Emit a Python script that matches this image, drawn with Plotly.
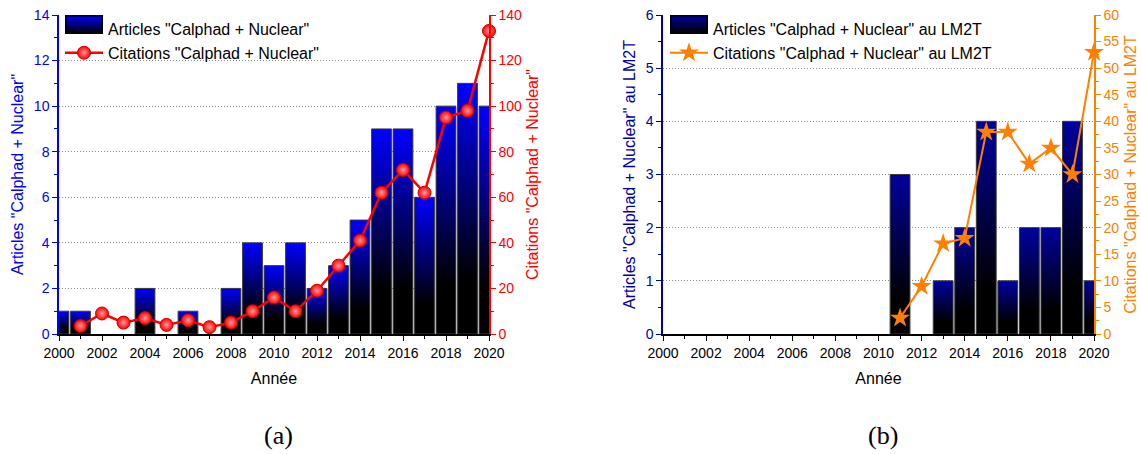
import base64
import plotly.graph_objects as go

# ---------------- data ----------------
years = list(range(2000, 2021))
articles_all = [1, 1, 0, 0, 2, 0, 1, 0, 2, 4, 3, 4, 2, 3, 5, 9, 9, 6, 10, 11, 10]
cit_years = list(range(2001, 2021))
citations_all = [3.5, 9, 5, 7, 4, 6, 3, 5, 10, 16, 10, 19, 30, 41, 62, 72, 62, 95, 98, 133]

lm2t_years = list(range(2011, 2021))
articles_lm2t = [3, 0, 1, 2, 4, 1, 2, 2, 4, 1]
citations_lm2t = [3, 9, 17, 18, 38, 38, 32, 35, 30, 53]

name_art_a = 'Articles "Calphad + Nuclear"'
name_cit_a = 'Citations "Calphad + Nuclear"'
name_art_b = 'Articles "Calphad + Nuclear" au LM2T'
name_cit_b = 'Citations "Calphad + Nuclear" au LM2T'
x_title = "Année"

W, H = 1141, 454
BAR_W = 0.92
FONT = "Liberation Sans, Arial, sans-serif"
BLUE = "#0000FF"
RED = "#FF0000"
NAVY = "#0000A0"
ORANGE = "#FF8000"

fig = go.Figure()


def add_bars(xs, vals, top_color, xref, yref, legend, name):
    for x, v in zip(xs, vals):
        if v <= 0:
            continue
        fig.add_trace(go.Scatter(
            x=[x - BAR_W / 2, x - BAR_W / 2, x + BAR_W / 2, x + BAR_W / 2, x - BAR_W / 2],
            y=[0, v, v, 0, 0],
            mode="lines", fill="toself",
            fillgradient=dict(type="vertical",
                              colorscale=[[0, "#000000"], [0.22, "#000000"], [1, top_color]]),
            line=dict(color="#3a3a3a", width=1),
            xaxis=xref, yaxis=yref, legend=legend, name=name,
            legendgroup=name, showlegend=False, hoverinfo="skip",
        ))
    # legend entry (its symbol box is drawn as a gradient image below)
    fig.add_trace(go.Scatter(
        x=[None], y=[None], mode="lines", name=name, legendgroup=name,
        line=dict(color="rgba(0,0,0,0)", width=1),
        xaxis=xref, yaxis=yref, legend=legend, showlegend=True,
    ))


# ---- chart (a) ----
add_bars(years, articles_all, BLUE, "x", "y", "legend", name_art_a)
fig.add_trace(go.Scatter(
    x=cit_years, y=citations_all, mode="lines+markers", name=name_cit_a,
    line=dict(color=RED, width=2.5),
    marker=dict(symbol="circle", size=13, color=RED,
                gradient=dict(type="radial", color="#ff9a9a"),
                line=dict(color="#d00000", width=1)),
    xaxis="x", yaxis="y2", legend="legend", cliponaxis=False,
))

# ---- chart (b) ----
add_bars(lm2t_years, articles_lm2t, NAVY, "x2", "y3", "legend2", name_art_b)
fig.add_trace(go.Scatter(
    x=lm2t_years, y=citations_lm2t, mode="lines+markers", name=name_cit_b,
    line=dict(color=ORANGE, width=2),
    marker=dict(symbol="star", size=15, color=ORANGE, line=dict(color=ORANGE, width=0)),
    xaxis="x2", yaxis="y4", legend="legend2", cliponaxis=False,
))

# ---- layout ----
ytop = (H - 15) / H
ybot = (H - 334) / H
dom_a = [59 / W, 489 / W]
dom_b = [663 / W, 1094 / W]

tickfont = dict(family=FONT, size=14, color="#000000")


def xaxis_cfg(domain, anchor):
    return dict(
        domain=domain, anchor=anchor, range=[2000, 2020], dtick=2, tick0=2000,
        ticks="outside", ticklen=5, tickwidth=1.2, tickcolor="#000",
        minor=dict(dtick=1, ticks="outside", ticklen=3, tickcolor="#000", tickwidth=1),
        showline=True, linecolor="#000", linewidth=1.5, showgrid=False, zeroline=False,
        tickfont=tickfont, automargin=False,
        title=dict(text=x_title, font=dict(family=FONT, size=16, color="#000"), standoff=13),
    )


def yaxis_cfg(color, rng, dtick, mdtick, anchor, side="left", overlaying=None, grid=False, title=""):
    d = dict(
        domain=[ybot, ytop], anchor=anchor, range=rng, dtick=dtick, side=side,
        ticks="outside", ticklen=5, tickwidth=1.2, tickcolor=color,
        minor=dict(dtick=mdtick, ticks="outside", ticklen=3, tickcolor=color, tickwidth=1),
        showline=True, linecolor=color, linewidth=1.5, zeroline=False,
        showgrid=grid, gridcolor="#8a8a8a", griddash="1px,2px", gridwidth=1,
        tickfont=dict(family=FONT, size=14, color=color), automargin=False,
        title=dict(text=title, font=dict(family=FONT, size=16, color=color), standoff=6),
    )
    if overlaying:
        d["overlaying"] = overlaying
    return d


def grad_box(top):
    svg = ('<svg xmlns="http://www.w3.org/2000/svg" width="38" height="19">'
           '<defs><linearGradient id="g" x1="0" y1="0" x2="0" y2="1">'
           f'<stop offset="0" stop-color="{top}"/><stop offset="1" stop-color="#000"/>'
           '</linearGradient></defs>'
           '<rect x="0.75" y="0.75" width="36.5" height="17.5" fill="url(#g)" '
           'stroke="#000" stroke-width="1.5"/></svg>')
    return "data:image/svg+xml;base64," + base64.b64encode(svg.encode()).decode()


legend_font = dict(family=FONT, size=16, color="#000")

fig.update_layout(
    width=W, height=H, margin=dict(l=0, r=0, t=0, b=0),
    plot_bgcolor="white", paper_bgcolor="white",
    xaxis=xaxis_cfg(dom_a, "y"),
    xaxis2=xaxis_cfg(dom_b, "y3"),
    yaxis=yaxis_cfg(BLUE, [0, 14], 2, 1, "x", grid=True, title=name_art_a),
    yaxis2=yaxis_cfg(RED, [0, 140], 20, 10, "x", side="right", overlaying="y", title=name_cit_a),
    yaxis3=yaxis_cfg(NAVY, [0, 6], 1, 0.5, "x2", grid=True, title=name_art_b),
    yaxis4=yaxis_cfg(ORANGE, [0, 60], 5, 2.5, "x2", side="right", overlaying="y3", title=name_cit_b),
    legend=dict(x=60 / W, y=(H - 12) / H, xanchor="left", yanchor="top", itemwidth=38,
                bgcolor="rgba(0,0,0,0)", font=legend_font, tracegroupgap=0),
    legend2=dict(x=665 / W, y=(H - 12) / H, xanchor="left", yanchor="top", itemwidth=38,
                 bgcolor="rgba(0,0,0,0)", font=legend_font, tracegroupgap=0),
    images=[
        dict(source=grad_box(BLUE), xref="paper", yref="paper", x=65 / W, y=(H - 15) / H,
             sizex=38 / W, sizey=19 / H, sizing="stretch", xanchor="left", yanchor="top",
             layer="above"),
        dict(source=grad_box(NAVY), xref="paper", yref="paper", x=670 / W, y=(H - 15) / H,
             sizex=38 / W, sizey=19 / H, sizing="stretch", xanchor="left", yanchor="top",
             layer="above"),
    ],
    annotations=[
        dict(text="(a)", x=278 / W, y=(H - 435) / H, xref="paper", yref="paper",
             xanchor="center", yanchor="middle", showarrow=False,
             font=dict(family="Liberation Serif, serif", size=26, color="#000")),
        dict(text="(b)", x=883 / W, y=(H - 435) / H, xref="paper", yref="paper",
             xanchor="center", yanchor="middle", showarrow=False,
             font=dict(family="Liberation Serif, serif", size=26, color="#000")),
    ],
)

fig.write_html("out.html", config={"displayModeBar": False},
               post_script="document.body.style.margin='0px';")
